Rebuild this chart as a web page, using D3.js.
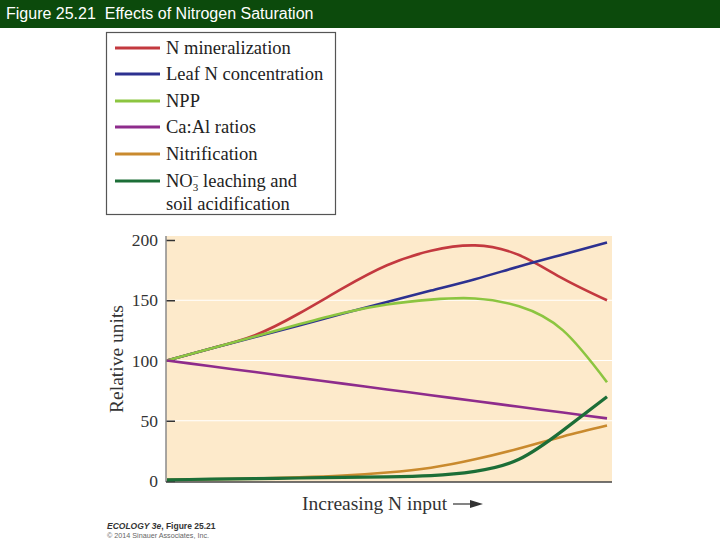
<!DOCTYPE html>
<html>
<head>
<meta charset="utf-8">
<script src="https://cdn.jsdelivr.net/npm/d3@7"></script>
<style>
  body { margin: 0; background: #fff; }
  svg { display: block; }
</style>
</head>
<body>
<div id="chart"></div>
<script>
// N input steps (arbitrary units, 0 = low, 10 = high)
var nInput = [0, 1, 2, 3, 4, 5, 6, 7, 8, 9, 10];

var nMineralization = [100, 110, 121, 139, 160, 179, 191, 195.5, 187.5, 168, 150];
var leafN = [100, 110, 119.5, 129, 139, 148.5, 158, 167.5, 178, 188, 198];
var npp = [100, 110, 120, 130, 139.5, 146.5, 150.5, 151.5, 145, 125, 82];
var caAl = [100, 95.2, 90.4, 85.6, 80.8, 76, 71.2, 66.4, 61.6, 56.8, 52];
var nitrification = [1, 1.5, 2, 3, 4.5, 7, 11, 18, 27, 37, 46];
var no3Leaching = [1, 1.5, 2, 2.5, 3, 3.5, 4.5, 8, 18, 42, 70];

var yTicks = [0, 50, 100, 150, 200];

var series = [
  { name: 'N mineralization', values: nMineralization, color: '#c3393f' },
  { name: 'Leaf N concentration', values: leafN, color: '#2d3190' },
  { name: 'NPP', values: npp, color: '#8cc540' },
  { name: 'Ca:Al ratios', values: caAl, color: '#8e2c8c' },
  { name: 'Nitrification', values: nitrification, color: '#c98a2e' },
  { name: 'NO3 leaching', values: no3Leaching, color: '#1c6e37' }
];

var W = 720, H = 540;
var svg = d3.select('#chart').append('svg').attr('width', W).attr('height', H);

// title bar
svg.append('rect').attr('x', 0).attr('y', 0).attr('width', W).attr('height', 28).attr('fill', '#0c4a0c');
svg.append('text')
  .attr('x', 6).attr('y', 19)
  .attr('fill', '#fff')
  .style('font-family', 'Liberation Sans, Arial, sans-serif')
  .style('font-size', '16px')
  .attr('xml:space', 'preserve')
  .text('Figure 25.21  Effects of Nitrogen Saturation');

var serif = 'Liberation Serif, Times New Roman, serif';

// plot area
var x0 = 166, x1 = 612, yTop = 236, yBot = 482;
var x = d3.scaleLinear().domain([0, 10]).range([x0 + 1, 607]);
var y = d3.scaleLinear().domain([0, 200]).range([481, 240]);

svg.append('rect')
  .attr('x', x0).attr('y', yTop)
  .attr('width', x1 - x0).attr('height', yBot - yTop)
  .attr('fill', '#fdeacb');

// white gridlines
svg.selectAll('.grid').data([50, 100, 150]).enter().append('line')
  .attr('class', 'grid')
  .attr('x1', x0).attr('x2', x1)
  .attr('y1', function(d) { return y(d); }).attr('y2', function(d) { return y(d); })
  .attr('stroke', '#fff').attr('stroke-width', 1);

// y axis, ticks point inward
var yAxis = d3.axisLeft(y).tickValues(yTicks).tickSize(-9).tickPadding(8);
var gy = svg.append('g').attr('transform', 'translate(' + x0 + ',0)').call(yAxis);
gy.select('.domain').remove();
gy.selectAll('.tick line').attr('stroke', '#333').attr('stroke-width', 1.5);
gy.selectAll('.tick text')
  .style('font-family', serif).style('font-size', '17.5px').attr('fill', '#333');
svg.append('line').attr('x1', x0).attr('x2', x0).attr('y1', yTop).attr('y2', yBot)
  .attr('stroke', '#8a8a8a').attr('stroke-width', 1.5);
svg.append('line').attr('x1', x0).attr('x2', x1).attr('y1', yBot).attr('y2', yBot)
  .attr('stroke', '#444').attr('stroke-width', 1.5);

svg.append('text')
  .attr('transform', 'translate(123,' + ((yTop + yBot) / 2) + ') rotate(-90)')
  .attr('text-anchor', 'middle')
  .style('font-family', serif).style('font-size', '19.5px').attr('fill', '#333')
  .text('Relative units');

// lines
var line = d3.line()
  .x(function(d, i) { return x(nInput[i]); })
  .y(function(d) { return y(d); })
  .curve(d3.curveNatural);

svg.selectAll('.series').data(series).enter().append('path')
  .attr('class', 'series')
  .attr('d', function(d) { return line(d.values); })
  .attr('fill', 'none')
  .attr('stroke', function(d) { return d.color; })
  .attr('stroke-width', function(d, i) { return i == 5 ? 3.2 : 2.6; });

// x axis title
svg.append('text')
  .attr('x', 302).attr('y', 510)
  .style('font-family', serif).style('font-size', '19.5px').attr('fill', '#333')
  .text('Increasing N input');
svg.append('line').attr('x1', 453).attr('x2', 472).attr('y1', 504).attr('y2', 504)
  .attr('stroke', '#333').attr('stroke-width', 1.2);
svg.append('path').attr('d', 'M470,500 L483,504 L470,508 Z').attr('fill', '#333');

// legend
var lg = svg.append('g');
lg.append('rect').attr('x', 106.5).attr('y', 32.5).attr('width', 229).attr('height', 182)
  .attr('fill', '#fff').attr('stroke', '#555').attr('stroke-width', 1.2);
var rowY = [48, 74, 101, 127, 154, 181];
var items = lg.selectAll('.item').data(series).enter().append('g')
  .attr('transform', function(d, i) { return 'translate(0,' + rowY[i] + ')'; });
items.append('line').attr('x1', 115).attr('x2', 160).attr('y1', 0).attr('y2', 0)
  .attr('stroke', function(d) { return d.color; }).attr('stroke-width', 3);
items.append('text')
  .attr('x', 166).attr('y', 6)
  .style('font-family', serif).style('font-size', '18.5px').attr('fill', '#222')
  .each(function(d, i) {
    var t = d3.select(this);
    if (i == 5) {
      t.append('tspan').text('NO');
      t.append('tspan').attr('dy', 4).style('font-size', '11px').text('3');
      t.append('tspan').attr('dy', -11).attr('dx', -6).style('font-size', '11px').text('\u2212');
      t.append('tspan').attr('dy', 7).text(' leaching and');
      t.append('tspan').attr('x', 166).attr('dy', 23).text('soil acidification');
    } else {
      t.text(d.name);
    }
  });

// credit
svg.append('text').attr('x', 107).attr('y', 529)
  .style('font-family', 'Liberation Sans, Arial, sans-serif').style('font-size', '8.5px')
  .style('font-weight', 'bold').attr('fill', '#333')
  .html('<tspan font-style="italic">ECOLOGY 3e</tspan>, Figure 25.21');
svg.append('text').attr('x', 107).attr('y', 538)
  .style('font-family', 'Liberation Sans, Arial, sans-serif').style('font-size', '7.2px')
  .attr('fill', '#666')
  .text('\u00a9 2014 Sinauer Associates, Inc.');
</script>
</body>
</html>
